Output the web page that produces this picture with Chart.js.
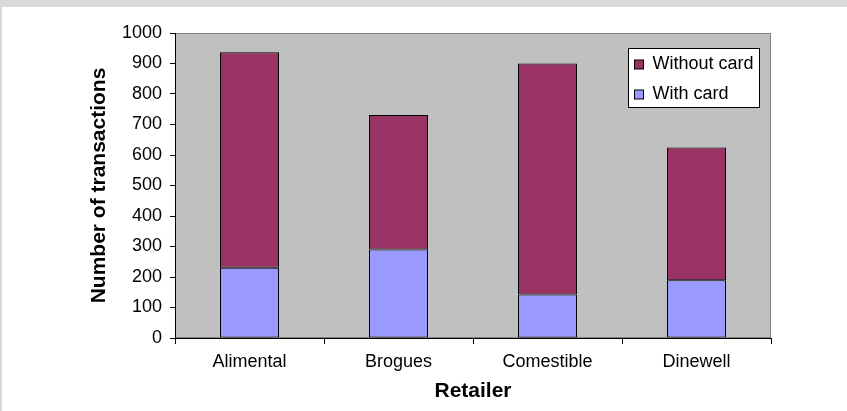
<!DOCTYPE html>
<html>
<head>
<meta charset="utf-8">
<script src="https://cdn.jsdelivr.net/npm/chart.js@4/dist/chart.umd.min.js"></script>
<style>
  html, body { margin: 0; padding: 0; background: #ffffff; }
  #wrap { position: relative; width: 847px; height: 411px; }
  canvas { display: block; }
</style>
</head>
<body>
<div id="wrap"><canvas id="c" width="847" height="411"></canvas></div>
<script>
// Transactions per retailer, split by whether a loyalty card was used
const retailers = ['Alimental', 'Brogues', 'Comestible', 'Dinewell'];
const withCard = [230, 290, 143, 189];
const withoutCard = [707, 441, 757, 436];
const yTicks = [0, 100, 200, 300, 400, 500, 600, 700, 800, 900, 1000];

const FONT = '"Liberation Sans", Arial, sans-serif';

// Page frame, grey plot background and plot border
const backdrop = {
  id: 'backdrop',
  beforeDraw(chart) {
    const { ctx, chartArea: a, width, height } = chart;
    ctx.save();
    ctx.fillStyle = '#ffffff';
    ctx.fillRect(0, 0, width, height);
    ctx.fillStyle = '#d9d9d9';
    ctx.fillRect(0, 0, width, 7);
    ctx.fillRect(0, 0, 2, height);
    ctx.fillStyle = '#c0c0c0';
    ctx.fillRect(a.left, a.top, a.right - a.left, a.bottom - a.top);
    ctx.strokeStyle = '#808080';
    ctx.lineWidth = 1;
    ctx.strokeRect(Math.round(a.left) + 0.5, Math.round(a.top) + 0.5,
                   Math.round(a.right - a.left) - 1, Math.round(a.bottom - a.top) - 1);
    ctx.restore();
  }
};

// Boxed legend inside the upper right of the plot, top series listed first
const boxLegend = {
  id: 'boxLegend',
  afterDraw(chart) {
    const { ctx, chartArea: a } = chart;
    const items = chart.data.datasets.slice().reverse();
    const boxW = 131, boxH = 59;
    const x0 = Math.round(a.right - 12 - boxW) + 0.5;
    const y0 = Math.round(a.top + 15) + 0.5;
    ctx.save();
    ctx.fillStyle = '#ffffff';
    ctx.fillRect(x0, y0, boxW, boxH);
    ctx.strokeStyle = '#000000';
    ctx.lineWidth = 1;
    ctx.strokeRect(x0, y0, boxW, boxH);
    ctx.font = '18px ' + FONT;
    ctx.textBaseline = 'middle';
    ctx.textAlign = 'left';
    items.forEach((ds, i) => {
      const cy = y0 + 16 + i * 29.5;
      ctx.fillStyle = ds.backgroundColor;
      ctx.fillRect(x0 + 6, Math.round(cy - 4.5), 9, 9);
      ctx.strokeStyle = '#000000';
      ctx.strokeRect(x0 + 6, Math.round(cy - 4.5), 9, 9);
      ctx.fillStyle = '#000000';
      ctx.fillText(ds.label, x0 + 24, cy);
    });
    ctx.restore();
  }
};

new Chart(document.getElementById('c'), {
  type: 'bar',
  data: {
    labels: retailers,
    datasets: [
      {
        label: 'With card',
        data: withCard,
        backgroundColor: '#9999ff',
        borderColor: '#000000',
        borderWidth: 1,
        borderSkipped: false,
        inflateAmount: 0
      },
      {
        label: 'Without card',
        data: withoutCard,
        backgroundColor: '#993366',
        borderColor: '#000000',
        borderWidth: 1,
        borderSkipped: false,
        inflateAmount: 0
      }
    ]
  },
  options: {
    responsive: false,
    animation: false,
    devicePixelRatio: 1,
    layout: { padding: { left: 0, top: 33, right: 76, bottom: 0 } },
    datasets: { bar: { barThickness: 59 } },
    plugins: {
      legend: { display: false },
      tooltip: { enabled: false }
    },
    scales: {
      x: {
        stacked: true,
        afterFit(scale) { scale.height = 73; },
        grid: {
          offset: true,
          drawOnChartArea: false,
          drawTicks: true,
          tickLength: 6,
          color: '#000000'
        },
        border: { display: true, color: '#000000', width: 1 },
        ticks: {
          color: '#000000',
          font: { family: FONT, size: 18 },
          padding: 7,
          maxRotation: 0
        },
        title: {
          display: true,
          text: 'Retailer',
          color: '#000000',
          font: { family: FONT, size: 21, weight: 'bold' },
          padding: { top: 0, bottom: 7 }
        }
      },
      y: {
        stacked: true,
        min: 0,
        max: 1000,
        afterFit(scale) { scale.width = 175; },
        afterBuildTicks(scale) { scale.ticks = yTicks.map(v => ({ value: v })); },
        grid: {
          drawOnChartArea: false,
          drawTicks: true,
          tickLength: 5,
          color: '#000000'
        },
        border: { display: true, color: '#000000', width: 1 },
        ticks: {
          color: '#000000',
          font: { family: FONT, size: 18 },
          padding: 8,
          callback: (v) => String(v)
        },
        title: {
          display: true,
          text: 'Number of transactions',
          color: '#000000',
          font: { family: FONT, size: 21, weight: 'bold' },
          padding: { top: 87, bottom: 0 }
        }
      }
    }
  },
  plugins: [backdrop, boxLegend]
});
</script>
</body>
</html>
